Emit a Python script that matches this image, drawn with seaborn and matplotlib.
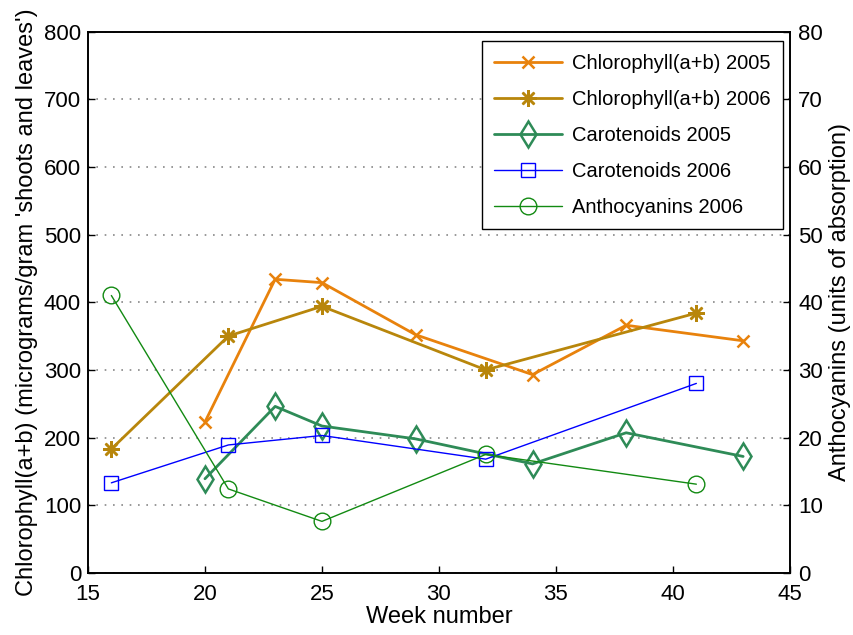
import matplotlib
matplotlib.use("Agg")
import matplotlib.pyplot as plt
import seaborn as sns
import pandas as pd

sns.set_theme(style="ticks")
plt.rcParams['font.family'] = ['Liberation Sans', 'DejaVu Sans']
plt.rcParams['text.color'] = 'black'
plt.rcParams['xtick.color'] = 'black'
plt.rcParams['ytick.color'] = 'black'
plt.rcParams['axes.labelcolor'] = 'black'

weeks_chl05 = [20, 23, 25, 29, 34, 38, 43]
chl05 = [223, 434, 429, 352, 293, 366, 343]
weeks_chl06 = [16, 21, 25, 32, 41]
chl06 = [183, 350, 394, 300, 384]
weeks_car05 = [20, 23, 25, 29, 34, 38, 43]
car05 = [139, 246, 217, 198, 161, 207, 172]
weeks_car06 = [16, 21, 25, 32, 41]
car06 = [133, 189, 203, 168, 280]
weeks_ant06 = [16, 21, 25, 32, 41]
ant06 = [41.0, 12.4, 7.6, 17.5, 13.1]

labels = ["Chlorophyll(a+b) 2005", "Chlorophyll(a+b) 2006", "Carotenoids 2005",
          "Carotenoids 2006", "Anthocyanins 2006"]

fs = 16
fig, ax = plt.subplots(figsize=(8.54, 6.35), dpi=100)
fig.subplots_adjust(left=0.103, right=0.925, bottom=0.098, top=0.95)
ax2 = ax.twinx()

specs = [
    (ax, weeks_chl05, chl05, labels[0], "#e8820c", "x", 9, 2.0),
    (ax, weeks_chl06, chl06, labels[1], "#b8860b", (8, 2, 0), 12, 2.0),
    (ax, weeks_car05, car05, labels[2], "#2e8b57", "d", 13, 2.0),
    (ax, weeks_car06, car06, labels[3], "#0000ff", "s", 10, 1.0),
    (ax2, weeks_ant06, ant06, labels[4], "#128a12", "o", 12, 1.0),
]
handles = []
for a, x, y, lab, col, mk, ms, lw in specs:
    df = pd.DataFrame({"week": x, "value": y})
    sns.lineplot(data=df, x="week", y="value", ax=a, color=col, marker=mk,
                 markersize=ms, markerfacecolor="none", markeredgecolor=col,
                 markeredgewidth=1.8 if lw > 1 else 1.0, linewidth=lw, label=lab,
                 legend=False)
    handles.append(a.lines[-1])

ax.set_xlim(15, 45)
ax.set_ylim(0, 800)
ax2.set_ylim(0, 80)
ax.set_xticks(range(15, 46, 5))
ax.set_yticks(range(0, 801, 100))
ax2.set_yticks(range(0, 81, 10))
ax.yaxis.grid(True, linestyle=(0, (1, 4)), color="#888888", linewidth=1.2)
ax.set_axisbelow(True)
for a in (ax, ax2):
    a.tick_params(direction="in", labelsize=fs, length=5, width=1, color="black",
                  labelcolor="black")
    for s in a.spines.values():
        s.set_color("black")
        s.set_linewidth(1.2)
ax.tick_params(axis="x", pad=8)
ax.tick_params(axis="y", pad=5)
ax2.tick_params(axis="y", pad=6)
ax.set_xlabel("Week number", fontsize=17, labelpad=1)
ax.set_ylabel("Chlorophyll(a+b) (micrograms/gram 'shoots and leaves')", fontsize=17, labelpad=4)
ax2.set_ylabel("Anthocyanins (units of absorption)", fontsize=17, labelpad=4)

leg = ax2.legend(handles, labels, loc="upper right", fontsize=14.5, frameon=True,
                 fancybox=False, edgecolor="black", framealpha=1, handlelength=3.4,
                 handletextpad=0.5, labelspacing=0.85, borderpad=0.6,
                 borderaxespad=0, bbox_to_anchor=(0.99, 0.982))
leg.get_frame().set_linewidth(1.0)

fig.savefig("out.png", dpi=100)
